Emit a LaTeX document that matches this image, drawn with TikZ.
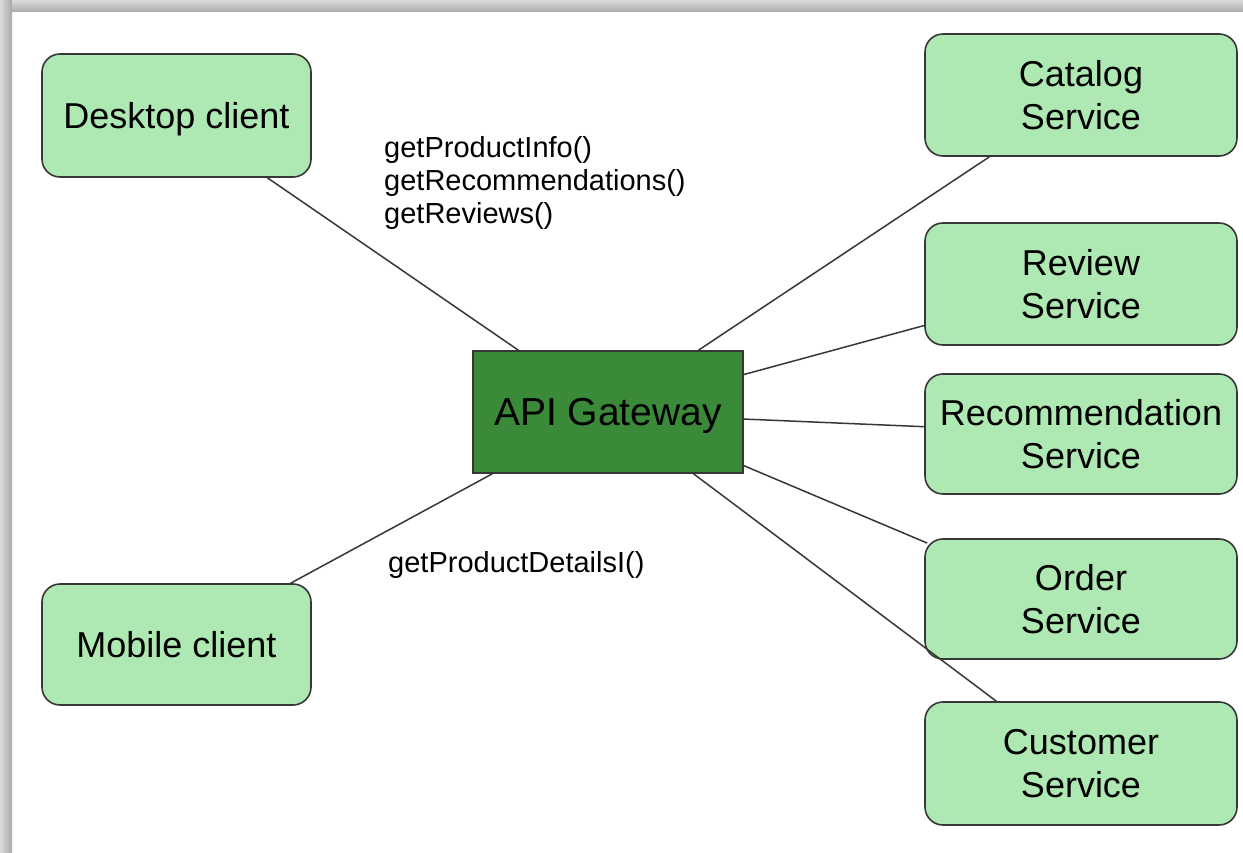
\documentclass[tikz,border=0pt]{standalone}
\usepackage{fontspec}
\setmainfont{Liberation Sans}
\usetikzlibrary{calc}
\definecolor{lightgreen}{RGB}{174,233,179}
\definecolor{darkgreen}{RGB}{58,138,57}
\definecolor{edgegray}{RGB}{55,55,55}
\tikzset{
  svcbox/.style={draw=edgegray, line width=1.6pt, fill=lightgreen, rounded corners=18pt,
    minimum width=312pt, minimum height=122pt, align=center, inner sep=0pt,
    font=\fontsize{36}{43}\selectfont},
  clientbox/.style={svcbox, minimum width=269pt},
  gwbox/.style={draw=edgegray, line width=1.6pt, fill=darkgreen, minimum width=270pt,
    minimum height=122pt, inner sep=0pt, text depth=0pt, font=\fontsize{39}{46}\selectfont},
  link/.style={draw=edgegray, line width=1.5pt},
  calllabel/.style={inner sep=0pt, align=left, font=\fontsize{29}{33}\selectfont}
}
\begin{document}
\begin{tikzpicture}[x=1pt,y=-1pt]
\useasboundingbox (0,0) rectangle (1243,853);
\fill[white] (0,0) rectangle (1243,853);
% frame
\shade[top color=gray!28, bottom color=gray!68] (0,0) rectangle (1243,12);
\shade[left color=gray!28, right color=gray!68] (0,0) rectangle (12,853);
% nodes
\node[clientbox, minimum height=123pt, text depth=0pt] (desk) at (176.5,115.5) {Desktop client};
\node[clientbox, minimum height=121pt] (mob) at (176.5,644.5) {Mobile client};
\node[gwbox] (gw) at (608,412) {API Gateway};
\node[svcbox] (cat) at (1081,95) {Catalog\\Service};
\node[svcbox] (rev) at (1081,284) {Review\\Service};
\node[svcbox, minimum height=120pt] (rec) at (1081,434) {Recommendation\\Service};
\node[svcbox, minimum height=120pt] (ord) at (1081,599) {Order\\Service};
\node[svcbox, minimum height=123pt] (cus) at (1081,763.5) {Customer\\Service};
% connectors
\draw[link] ($(desk.south west)!0.836!(desk.south east)$) -- ($(gw.north west)!0.17!(gw.north east)$);
\draw[link] ($(mob.north west)!0.922!(mob.north east)$) -- ($(gw.south west)!0.074!(gw.south east)$);
\draw[link] ($(cat.south west)!0.208!(cat.south east)$) -- ($(gw.north west)!0.833!(gw.north east)$);
\draw[link] ($(rev.north west)!0.836!(rev.south west)$) -- ($(gw.north east)!0.197!(gw.south east)$);
\draw[link] ($(rec.north west)!0.44!(rec.south west)$) -- ($(gw.north east)!0.557!(gw.south east)$);
\draw[link] ($(ord.north west)!0.04!(ord.south west)+(3pt,0)$) -- ($(gw.north east)!0.934!(gw.south east)$);
\draw[link] ($(cus.north west)!0.23!(cus.north east)$) -- ($(gw.south west)!0.815!(gw.south east)$);
% labels
\node[calllabel, anchor=north west] (lab1) at (384,136) {getProductInfo()\\getRecommendations()\\getReviews()};
\node[calllabel, anchor=base west] (lab2) at (388,572) {getProductDetailsI()};
\end{tikzpicture}
\end{document}
